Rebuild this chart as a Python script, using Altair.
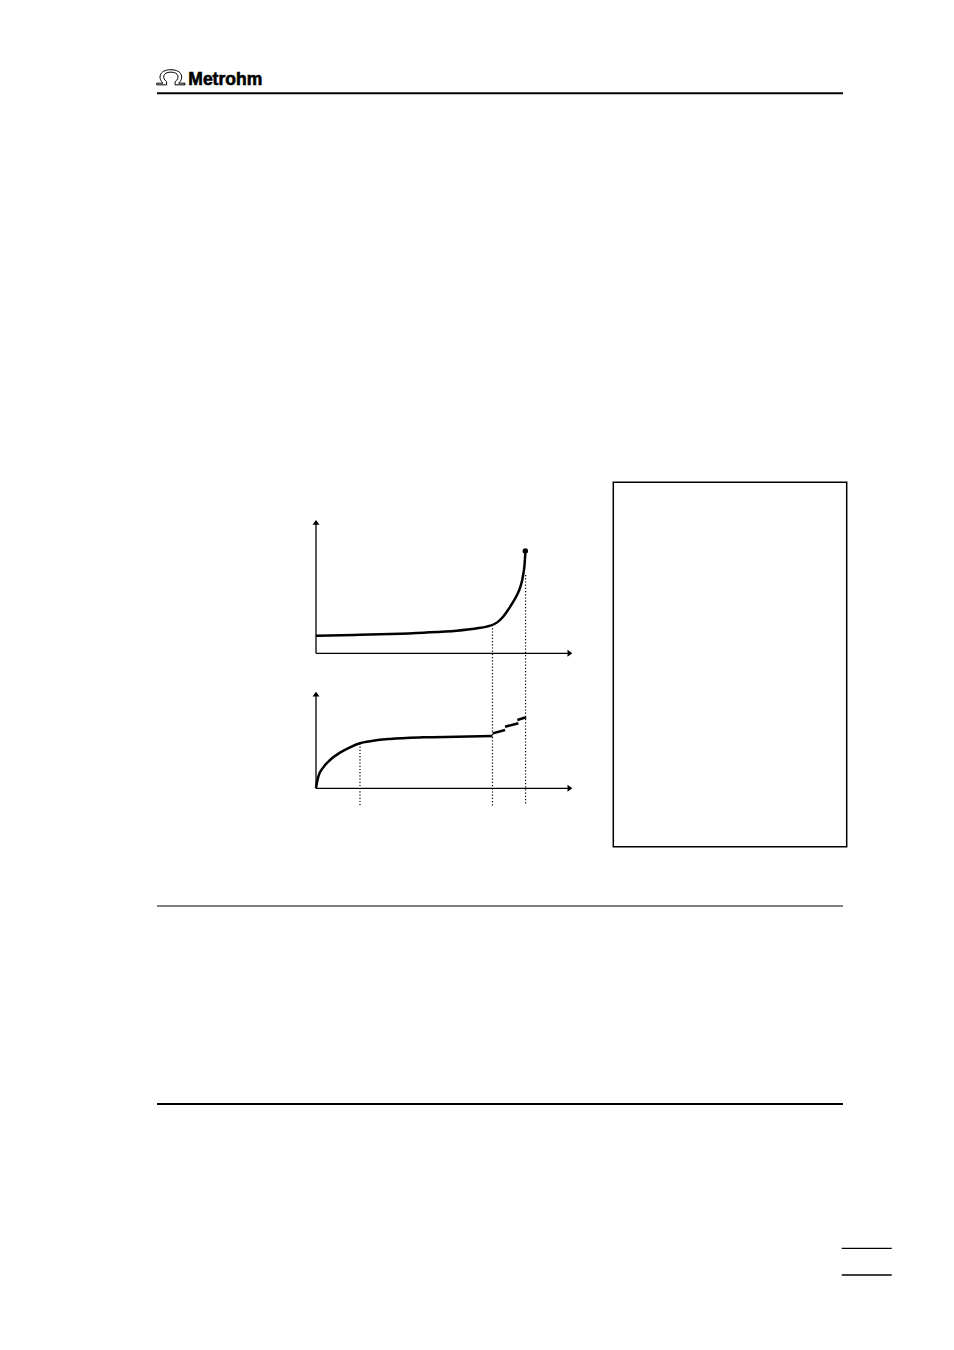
import altair as alt
import pandas as pd

# ---------------- data (arbitrary units: volume V on x, signal on y) ----------------
# upper panel: measured curve (titration-like, rising sharply at the end)
V_TOP = [0.0, 1.5, 2.9, 4.2, 5.485, 6.238, 6.655, 6.94, 7.135, 7.302, 7.485, 7.692,
         7.836, 7.953, 8.031, 8.082, 8.129, 8.16]
Y_TOP = [1.32, 1.38, 1.45, 1.55, 1.70, 1.865, 2.0, 2.18, 2.43, 2.76, 3.25, 3.87,
         4.37, 4.90, 5.42, 5.95, 6.62, 7.52]
END_V = [8.16]
END_Y = [7.67]

# lower panel: dosing curve
V_BOT = [0.0, 0.04, 0.09, 0.285, 0.546, 0.936, 1.326, 1.715, 2.105, 2.885, 4.18, 5.485, 6.88]
Y_BOT = [0.0, 0.62, 1.20, 2.17, 2.93, 3.69, 4.24, 4.66, 4.87, 5.11, 5.28, 5.34, 5.41]
# incremental dosing steps (start/end of each slanted dash)
STEP_V1 = [6.89, 7.37, 7.85]
STEP_V2 = [7.37, 7.89, 8.19]
STEP_Y1 = [5.69, 6.38, 7.07]
STEP_Y2 = [6.04, 6.73, 7.35]

# marker volumes for the dotted guide lines
MARK_V = [1.715, 6.88, 8.17]

# ---------------- scales (pixel ranges = layout) ----------------
def xs():
    return alt.Scale(domain=[0, 10], range=[308, 564.5], nice=False, zero=False)

def yt():
    return alt.Scale(domain=[0, 10], range=[645.3, 512], nice=False, zero=False)

def yb():
    return alt.Scale(domain=[0, 10], range=[780.3, 683.7], nice=False, zero=False)

blank = alt.Data(values=[{}])
layers = []

# ---------------- page decoration ----------------
OMEGA = ("M -1 0.52 L -1 0.4 L -0.55 0.4 C -0.92 0.1 -0.86 -0.55 0 -0.55 "
         "C 0.86 -0.55 0.92 0.1 0.55 0.4 L 1 0.4 L 1 0.52 L 0.3 0.52 L 0.3 0.3 "
         "C 0.62 0.08 0.6 -0.38 0 -0.38 C -0.6 -0.38 -0.62 0.08 -0.3 0.3 L -0.3 0.52 Z")
layers.append(alt.Chart(blank).mark_point(shape=OMEGA, size=800, filled=False, stroke="black",
                                          strokeWidth=1, opacity=1)
              .encode(x=alt.value(162.85), y=alt.value(69.5)))
layers.append(alt.Chart(blank).mark_text(text="Metrohm", font="Liberation Sans, Arial, sans-serif",
                                         fontWeight="bold", fontSize=17.5, align="left", baseline="alphabetic",
                                         color="black", stroke="black", strokeWidth=0.6)
              .encode(x=alt.value(180.3), y=alt.value(77)))
layers.append(alt.Chart(blank).mark_rule(strokeWidth=2, color="black")
              .encode(x=alt.value(149), x2=alt.value(835), y=alt.value(85.3)))
layers.append(alt.Chart(blank).mark_rule(strokeWidth=1, color="black")
              .encode(x=alt.value(149), x2=alt.value(835), y=alt.value(898)))
layers.append(alt.Chart(blank).mark_rule(strokeWidth=2, color="black")
              .encode(x=alt.value(149), x2=alt.value(835), y=alt.value(1096)))
layers.append(alt.Chart(blank).mark_rule(strokeWidth=1.3, color="black")
              .encode(x=alt.value(833.7), x2=alt.value(883.7), y=alt.value(1240.3)))
layers.append(alt.Chart(blank).mark_rule(strokeWidth=1.3, color="black")
              .encode(x=alt.value(833.7), x2=alt.value(883.7), y=alt.value(1267)))
layers.append(alt.Chart(blank).mark_rect(fill="white", fillOpacity=0, stroke="black", strokeWidth=1.5)
              .encode(x=alt.value(605.3), x2=alt.value(838.7), y=alt.value(474.3), y2=alt.value(838.7)))

# ---------------- axes of the two panels ----------------
ARROW_UP = "M 0 -0.7 L 1 0.7 L -1 0.7 Z"
ARROW_RIGHT = "M 0.7 0 L -0.7 -1 L -0.7 1 Z"

for ysc in (yt, yb):
    # horizontal axis
    layers.append(alt.Chart(pd.DataFrame({"a": [0], "b": [9.85], "c": [0]})).mark_rule(strokeWidth=1.3, color="black")
                  .encode(x=alt.X("a:Q", scale=xs(), axis=None), x2="b:Q", y=alt.Y("c:Q", scale=ysc(), axis=None)))
    layers.append(alt.Chart(pd.DataFrame({"a": [9.9], "c": [0]})).mark_point(shape=ARROW_RIGHT, size=49, filled=True,
                                                                             color="black", opacity=1, strokeWidth=0)
                  .encode(x=alt.X("a:Q", scale=xs(), axis=None), y=alt.Y("c:Q", scale=ysc(), axis=None)))

# vertical axes
layers.append(alt.Chart(pd.DataFrame({"a": [0], "c": [0], "d": [9.7]})).mark_rule(strokeWidth=1.3, color="black")
              .encode(x=alt.X("a:Q", scale=xs(), axis=None), y=alt.Y("c:Q", scale=yt(), axis=None), y2="d:Q"))
layers.append(alt.Chart(pd.DataFrame({"a": [0], "c": [9.82]})).mark_point(shape=ARROW_UP, size=49, filled=True,
                                                                          color="black", opacity=1, strokeWidth=0)
              .encode(x=alt.X("a:Q", scale=xs(), axis=None), y=alt.Y("c:Q", scale=yt(), axis=None)))
layers.append(alt.Chart(pd.DataFrame({"a": [0], "c": [0], "d": [9.6]})).mark_rule(strokeWidth=1.3, color="black")
              .encode(x=alt.X("a:Q", scale=xs(), axis=None), y=alt.Y("c:Q", scale=yb(), axis=None), y2="d:Q"))
layers.append(alt.Chart(pd.DataFrame({"a": [0], "c": [9.75]})).mark_point(shape=ARROW_UP, size=49, filled=True,
                                                                          color="black", opacity=1, strokeWidth=0)
              .encode(x=alt.X("a:Q", scale=xs(), axis=None), y=alt.Y("c:Q", scale=yb(), axis=None)))

# ---------------- dotted guide lines ----------------
guide_top = [735.3, 617.0, 567.0]   # pixel start (layout)
guide_bot = [798.7, 798.7, 797.0]
for v, t, b in zip(MARK_V, guide_top, guide_bot):
    layers.append(alt.Chart(pd.DataFrame({"v": [v]})).mark_rule(strokeWidth=1.2, color="black", strokeDash=[1.2, 2])
                  .encode(x=alt.X("v:Q", scale=xs(), axis=None), y=alt.value(t), y2=alt.value(b)))

# ---------------- curves ----------------
top_df = pd.DataFrame({"v": V_TOP, "y": Y_TOP})
layers.append(alt.Chart(top_df).mark_line(strokeWidth=2.5, color="black", interpolate="monotone")
              .encode(x=alt.X("v:Q", scale=xs(), axis=None), y=alt.Y("y:Q", scale=yt(), axis=None)))
layers.append(alt.Chart(pd.DataFrame({"v": END_V, "y": END_Y})).mark_point(size=30, filled=True, color="black", opacity=1)
              .encode(x=alt.X("v:Q", scale=xs(), axis=None), y=alt.Y("y:Q", scale=yt(), axis=None)))

bot_df = pd.DataFrame({"v": V_BOT, "y": Y_BOT})
layers.append(alt.Chart(bot_df).mark_line(strokeWidth=2.5, color="black", interpolate="monotone")
              .encode(x=alt.X("v:Q", scale=xs(), axis=None), y=alt.Y("y:Q", scale=yb(), axis=None)))
step_df = pd.DataFrame({"v1": STEP_V1, "v2": STEP_V2, "y1": STEP_Y1, "y2": STEP_Y2})
layers.append(alt.Chart(step_df).mark_rule(strokeWidth=2.5, color="black")
              .encode(x=alt.X("v1:Q", scale=xs(), axis=None), x2="v2:Q",
                      y=alt.Y("y1:Q", scale=yb(), axis=None), y2="y2:Q"))

chart = (alt.layer(*layers)
         .resolve_scale(x="independent", y="independent")
         .properties(width=938, height=1334, padding=0, background="white")
         .configure_view(stroke=None))

chart.save("out.html", embed_options={"renderer": "svg", "actions": False})
